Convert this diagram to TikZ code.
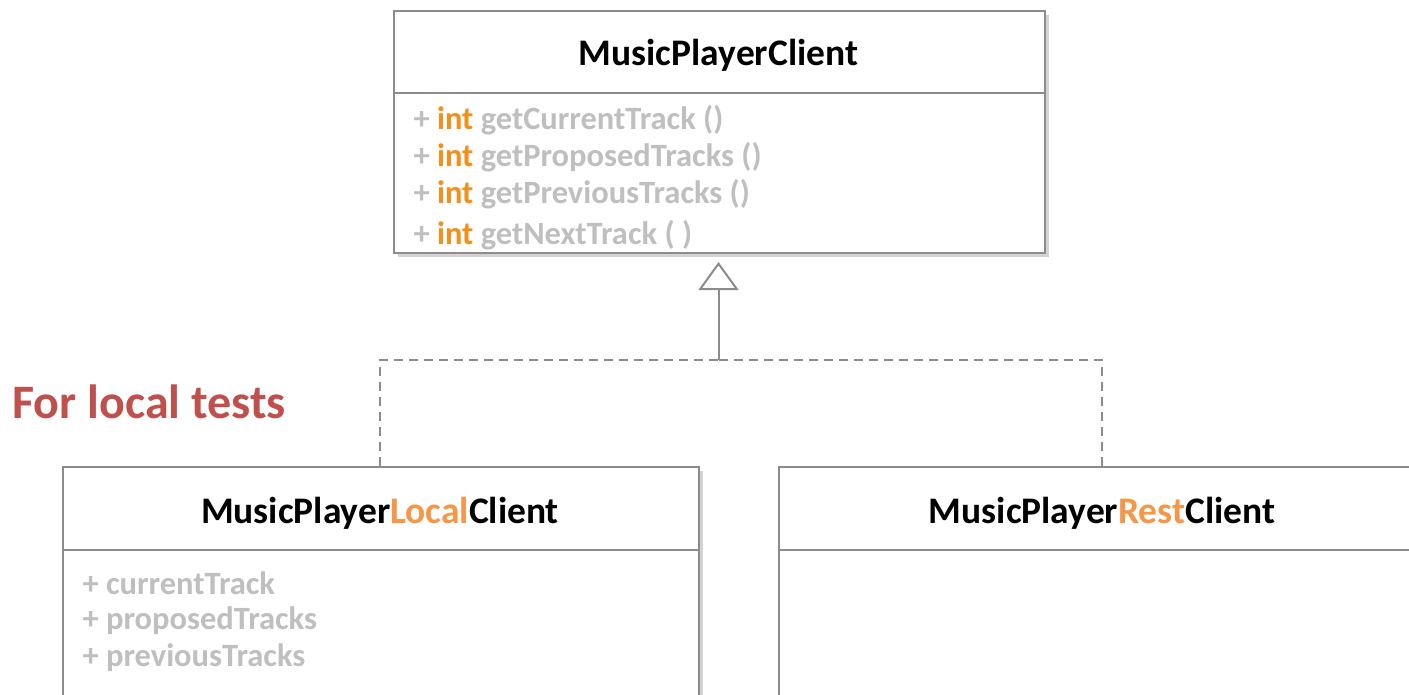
\documentclass[tikz,border=0pt]{standalone}
\usepackage{fontspec}
\setmainfont{Carlito}
\usetikzlibrary{shadows,arrows.meta}
\definecolor{boxgray}{HTML}{8C8C8C}
\definecolor{txtgray}{HTML}{BFBFBF}
\definecolor{intorange}{HTML}{F39019}
\definecolor{lightorange}{HTML}{F79646}
\definecolor{redlabel}{HTML}{C0504D}
\tikzset{
  umlbox/.style={draw=boxgray, line width=2pt, fill=white, inner sep=0pt, anchor=north west,
    drop shadow={opacity=0.35, shadow xshift=4pt, shadow yshift=-4pt}},
  divider/.style={draw=boxgray, line width=2pt},
  title/.style={font=\bfseries\fontsize{37.5}{44}\selectfont, text=black, anchor=center},
  member/.style={font=\bfseries\fontsize{32.5}{38}\selectfont, text=txtgray, anchor=west},
  conn/.style={draw=boxgray, line width=2pt},
  dashconn/.style={conn, dash pattern=on 9pt off 6pt},
}
\begin{document}
\begin{tikzpicture}[x=1pt,y=-1pt]
\useasboundingbox (0,0) rectangle (1409,694);
% top class
\node[umlbox, minimum width=651pt, minimum height=242pt] (mpc) at (393,10) {};
\draw[divider] (393,93) -- (1044,93);
\node[title] (mpct) at (718.5,55) {MusicPlayerClient};
\node[member] (m1) at (410,120) {+ \textcolor{intorange}{int} getCurrentTrack ()};
\node[member] (m2) at (410,157) {+ \textcolor{intorange}{int} getProposedTracks ()};
\node[member] (m3) at (410,194) {+ \textcolor{intorange}{int} getPreviousTracks ()};
\node[member] (m4) at (410,235) {+ \textcolor{intorange}{int} getNextTrack ( )};
% left class
\node[umlbox, minimum width=636pt, minimum height=240pt] (llc) at (62,466) {};
\draw[divider] (62,550) -- (698,550);
\node[title] (llct) at (380,513) {MusicPlayer\textcolor{lightorange}{Local}Client};
\node[member] (a1) at (79,583) {+ currentTrack};
\node[member] (a2) at (79,621) {+ proposedTracks};
\node[member] (a3) at (79,658) {+ previousTracks};
% right class
\node[umlbox, minimum width=648pt, minimum height=240pt] (rlc) at (778,466) {};
\draw[divider] (778,550) -- (1426,550);
\node[title] (rlct) at (1102,513) {MusicPlayer\textcolor{lightorange}{Rest}Client};
% label
\node[font=\bfseries\fontsize{48}{56}\selectfont, text=redlabel, anchor=west] (lbl) at (9,402) {For local tests};
% connectors
\coordinate (j) at (718.5,360);
\coordinate (ltop) at (380,466);
\coordinate (rtop) at (1102,466);
\draw[dashconn] (ltop) |- (j);
\draw[dashconn] (rtop) |- (j);
\draw[conn, -{Triangle[open, width=40pt, length=28pt, line width=2pt, fill=white]}, shorten >=8pt] (j) -- (mpc.south -| j);
\end{tikzpicture}
\end{document}
